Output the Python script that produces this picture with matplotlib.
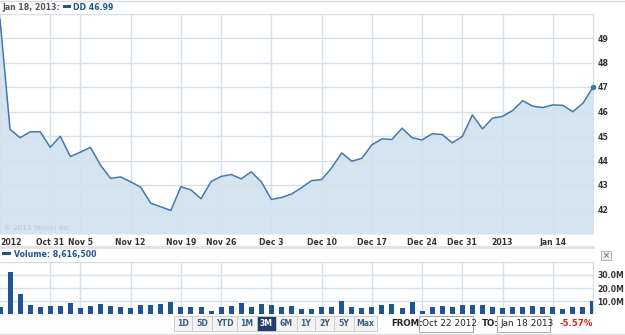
import matplotlib
matplotlib.use("Agg")
import matplotlib.pyplot as plt
from matplotlib.patches import Rectangle

# DD daily close, Oct 22 2012 - Jan 18 2013 (trading days)
price = [49.76, 45.27, 44.93, 45.17, 45.17, 44.54, 44.99, 44.16, 44.34, 44.54,
         43.81, 43.27, 43.33, 43.13, 42.91, 42.26, 42.11, 41.96, 42.93, 42.80,
         42.44, 43.14, 43.35, 43.43, 43.25, 43.54, 43.13, 42.41, 42.49, 42.63,
         42.89, 43.18, 43.22, 43.70, 44.31, 43.97, 44.09, 44.64, 44.88, 44.86,
         45.32, 44.93, 44.84, 45.09, 45.06, 44.72, 44.98, 45.86, 45.29, 45.73,
         45.80, 46.04, 46.44, 46.22, 46.16, 46.27, 46.25, 45.99, 46.34, 46.99]

# volume in millions
volume = [5.7, 31.8, 15.5, 7.0, 5.7, 6.0, 6.0, 8.7, 4.5, 6.0,
          7.7, 6.0, 5.3, 4.5, 7.0, 7.0, 7.7, 9.5, 5.7, 5.3,
          5.3, 2.7, 5.7, 6.0, 8.3, 5.7, 7.5, 7.0, 5.3, 6.0,
          4.0, 4.0, 5.3, 5.7, 10.0, 5.7, 4.5, 5.7, 7.0, 7.7,
          4.5, 9.5, 2.7, 5.3, 6.0, 5.7, 7.0, 7.0, 7.0, 5.3,
          4.5, 5.3, 5.3, 6.0, 5.3, 5.3, 4.0, 5.7, 5.3, 10.0]

# trading-day index of each date label
tick_pos = [0, 5, 8, 13, 18, 22, 27, 32, 37, 42, 46, 50, 55]
tick_labels = ["2012", "Oct 31", "Nov 5", "Nov 12", "Nov 19", "Nov 26", "Dec 3",
               "Dec 10", "Dec 17", "Dec 24", "Dec 31", "2013", "Jan 14"]
price_ticks = [42, 43, 44, 45, 46, 47, 48, 49]
vol_ticks = [10, 20, 30]
vol_tick_labels = ["10.0M", "20.0M", "30.0M"]
ranges = ["1D", "5D", "YTD", "1M", "3M", "6M", "1Y", "2Y", "5Y", "Max"]

W, H = 625, 335
grid_c = "#d5e0ea"
line_c = "#4677ab"
fill_c = "#d4e4f0"
bar_c = "#1f5592"
txt_c = "#333333"
FS = 5.6


def fx(px):
    return px / W


def fy(py):
    return 1 - py / H


def box(x0, y0, x1, y1, **kw):
    fig.patches.append(Rectangle((fx(x0), fy(y1)), fx(x1) - fx(x0), fy(y0) - fy(y1),
                                 transform=fig.transFigure, **kw))


fig = plt.figure(figsize=(W / 100, H / 100), dpi=100)
fig.patch.set_facecolor("white")

x = list(range(len(price)))

# price panel
ax = fig.add_axes([0, fy(234), fx(593), (234 - 13.5) / H])
ax.fill_between(x, price, 41, color=fill_c, lw=0, zorder=1)
ax.plot(x, price, color=line_c, lw=1.1, zorder=3)
ax.plot(x[-1], price[-1], "o", color=line_c, ms=3, zorder=4, clip_on=False)
ax.set_xlim(0, len(price) - 1)
ax.set_ylim(41, 50)
ax.set_xticks(tick_pos)
ax.set_xticklabels(tick_labels)
ax.set_yticks(price_ticks)
ax.yaxis.tick_right()
ax.grid(True, color=grid_c, lw=1, zorder=2)
ax.axhline(50, color=grid_c, lw=1)
ax.tick_params(length=0, labelsize=FS, labelcolor=txt_c, pad=3)
for lab in ax.get_xticklabels() + ax.get_yticklabels():
    lab.set_fontweight("bold")
ax.get_xticklabels()[0].set_horizontalalignment("left")
for s in ["left", "top", "bottom"]:
    ax.spines[s].set_visible(False)
ax.spines["right"].set_color(grid_c)
ax.text(0.006, 0.02, "\u00a9 2013 Yahoo! Inc.", transform=ax.transAxes,
        fontsize=5, color="#b8c8d6", zorder=5)

# volume panel
vax = fig.add_axes([0, fy(314.3), fx(593), (314.3 - 261.7) / H])
vax.bar(x, volume, width=0.5, color=bar_c, zorder=3)
vax.set_xlim(0, len(price) - 1)
vax.set_ylim(0, 40)
vax.set_xticks(tick_pos[1:])
vax.set_xticklabels([])
vax.set_yticks(vol_ticks)
vax.set_yticklabels(vol_tick_labels)
vax.yaxis.tick_right()
vax.grid(True, color=grid_c, lw=1, zorder=1)
vax.axhline(40, color=grid_c, lw=1)
vax.tick_params(length=0, labelsize=FS, labelcolor=txt_c, pad=3)
for lab in vax.get_yticklabels():
    lab.set_fontweight("bold")
for s in ["left", "top", "bottom"]:
    vax.spines[s].set_visible(False)
vax.spines["right"].set_color(grid_c)

# header texts
fig.text(fx(2), fy(7), "Jan 18, 2013:", fontsize=FS, fontweight="bold",
         color="#555555", va="center")
box(63, 5, 71, 8, color=bar_c, lw=0)
fig.text(fx(73), fy(7), "DD 46.99", fontsize=FS, fontweight="bold",
         color=bar_c, va="center")
box(2, 252, 11, 255, color=bar_c, lw=0)
fig.text(fx(14), fy(254), "Volume: 8,616,500", fontsize=FS, fontweight="bold",
         color=bar_c, va="center")

# separators
fig.lines.append(plt.Line2D([0, 1], [fy(0.5), fy(0.5)], transform=fig.transFigure,
                            color="#dddddd", lw=1))
fig.lines.append(plt.Line2D([0, fx(593)], [fy(247), fy(247)], transform=fig.transFigure,
                            color="#e2e2e2", lw=2))
fig.lines.append(plt.Line2D([0, 1], [fy(334), fy(334)], transform=fig.transFigure,
                            color="#dddddd", lw=1))

# close button
box(601, 251, 611, 260, facecolor="#eeeeee", edgecolor="#aaaaaa", lw=0.6)
fig.text(fx(606), fy(255.5), "\u00d7", fontsize=6, color="#555555",
         ha="center", va="center")

# range buttons
edges = [174, 192, 212, 237, 257, 276, 297, 315, 334, 354, 377]
for i, r in enumerate(ranges):
    a, b = edges[i], edges[i + 1]
    sel = r == "3M"
    box(a, 316, b, 331, facecolor="#1d3f6b" if sel else "#f4f4f4",
        edgecolor="#c9c9c9", lw=0.6)
    fig.text(fx((a + b) / 2), fy(323.5), r, fontsize=FS, fontweight="bold",
             color="white" if sel else "#3d5f86", ha="center", va="center")

fig.text(fx(391), fy(324), "FROM:", fontsize=6.2, fontweight="bold",
         color="#222222", va="center")
box(419, 316, 473, 332, facecolor="white", edgecolor="#999999", lw=0.6)
fig.text(fx(422), fy(324), "Oct 22 2012", fontsize=6.4, color="#222222", va="center")
fig.text(fx(482), fy(324), "TO:", fontsize=6.2, fontweight="bold",
         color="#222222", va="center")
box(497, 316, 550, 332, facecolor="white", edgecolor="#999999", lw=0.6)
fig.text(fx(500), fy(324), "Jan 18 2013", fontsize=6.4, color="#222222", va="center")
fig.text(fx(559), fy(324), "-5.57%", fontsize=6.2, fontweight="bold",
         color="#e02020", va="center")

fig.savefig("out.png", dpi=100, facecolor="white")
